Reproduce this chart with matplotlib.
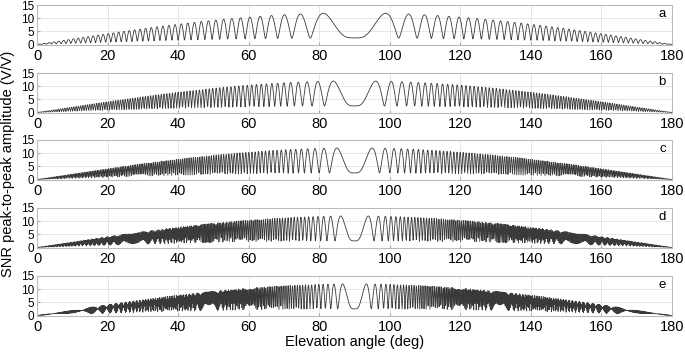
import numpy as np
import matplotlib
matplotlib.use('Agg')
import matplotlib.pyplot as plt

plt.rcParams['font.family'] = ['Liberation Sans', 'DejaVu Sans']

# values
panel_labels = ['a', 'b', 'c', 'd', 'e']
# interference cycles between 0 and 90 deg (from the spacing of the lobes near zenith)
cycles_to_zenith = [42, 91, 131, 215, 290]
peak_amplitude = 12.0     # highest lobe, just before the zenith trough
zenith_trough = 2.5       # value at 90 deg
x_ticks = [0, 20, 40, 60, 80, 100, 120, 140, 160, 180]
y_ticks = [0, 5, 10, 15]

# direct / reflected ratio from lobe max and zenith trough
ratio = (peak_amplitude - zenith_trough) / (peak_amplitude + zenith_trough)
direct = peak_amplitude / (1 + ratio)

elev = np.arange(0, 180.0001, 0.1)
rad = np.deg2rad(elev)

fig = plt.figure(figsize=(6.85, 3.57), dpi=100)
left, width = 37 / 685, (672 - 37) / 685
tops = [5, 73, 140, 208, 276]
h = 39.5

for i, lab in enumerate(panel_labels):
    ax = fig.add_axes([left, 1 - (tops[i] + h) / 357, width, h / 357])
    phase = 2 * np.pi * cycles_to_zenith[i] * (np.sin(rad) - 1) + np.pi
    snr = direct * np.sin(rad) * np.abs(1 + ratio * np.exp(1j * phase))
    ax.plot(elev, snr, color='#3a3a3a', linewidth=0.6)
    ax.set_xlim(0, 180)
    ax.set_ylim(0, 15)
    ax.set_xticks(x_ticks)
    ax.set_yticks(y_ticks)
    ax.tick_params(axis='x', labelsize=10.5, direction='in', length=2, pad=3, color='#aaaaaa')
    ax.tick_params(axis='y', labelsize=8.5, direction='in', length=2, pad=2, color='#aaaaaa')
    ax.grid(True, color='#e3e3e3', linewidth=0.6)
    ax.set_axisbelow(True)
    for s in ax.spines.values():
        s.set_color('#bbbbbb')
        s.set_linewidth(0.8)
    ax.text(0.99, 0.93, lab, transform=ax.transAxes, ha='right', va='top', fontsize=9.5)
    if i == 4:
        ax.set_xlabel('Elevation angle (deg)', fontsize=10.5, labelpad=1)

fig.text(0.001, 0.54, 'SNR peak-to-peak amplitude (V/V)', rotation=90,
         ha='left', va='center', fontsize=10.5)

fig.savefig('out.png', dpi=100)
